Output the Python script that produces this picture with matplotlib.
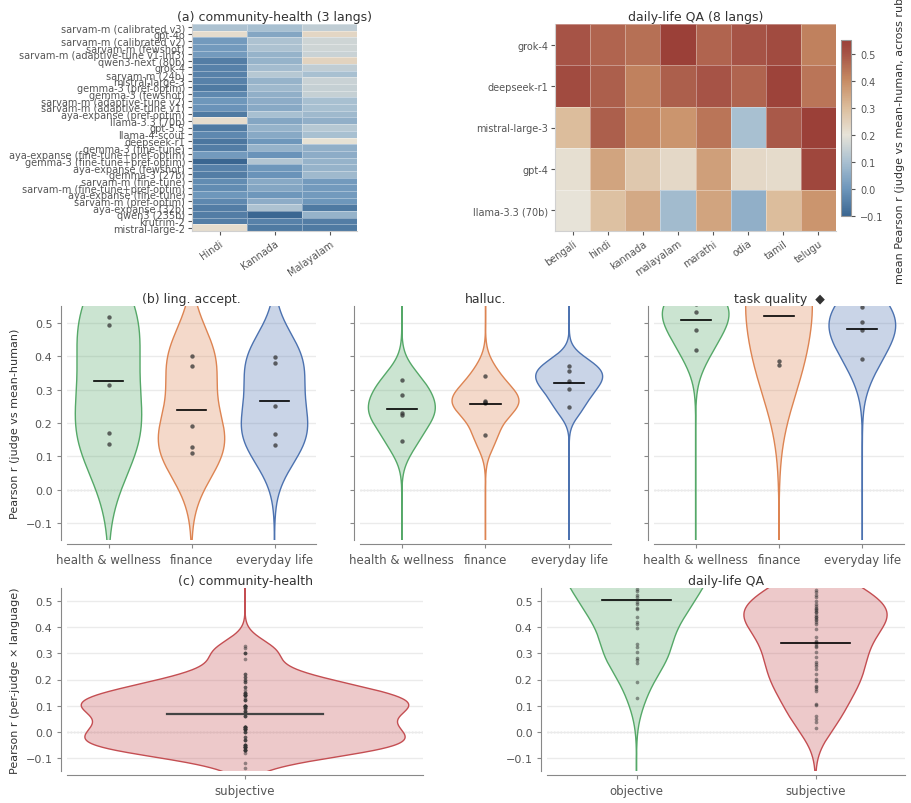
import numpy as np
import matplotlib
matplotlib.use("Agg")
import matplotlib.pyplot as plt
from matplotlib.colors import LinearSegmentedColormap, Normalize

# ---- data ----
ch_judges = ["sarvam-m (calibrated v3)", "gpt-4o", "sarvam-m (calibrated v2)", "sarvam-m (fewshot)",
             "sarvam-m (adaptive-tune v1-inf3)", "qwen3-next (80b)", "grok-4", "sarvam-m (24b)",
             "mistral-large-3", "gemma-3 (pref-optim)", "gemma-3 (fewshot)", "sarvam-m (adaptive-tune v2)",
             "sarvam-m (adaptive-tune v1)", "aya-expanse (pref-optim)", "llama-3.3 (70b)", "gpt-5.5",
             "llama-4-scout", "deepseek-r1", "gemma-3 (fine-tune)", "aya-expanse (fine-tune+pref-optim)",
             "gemma-3 (fine-tune+pref-optim)", "aya-expanse (fewshot)", "gemma-3 (27b)", "sarvam-m (fine-tune)",
             "sarvam-m (fine-tune+pref-optim)", "aya-expanse (fine-tune)", "sarvam-m (pref-optim)",
             "aya-expanse (32b)", "qwen3 (235b)", "krutrim-2", "mistral-large-2"]
ch_langs = ["Hindi", "Kannada", "Malayalam"]
ch_r = np.array([
    [0.15, 0.14, 0.19], [0.30, 0.06, 0.32], [0.02, 0.15, 0.22], [0.02, 0.15, 0.22],
    [0.02, 0.10, 0.21], [-0.06, 0.10, 0.33], [-0.05, 0.13, 0.19], [-0.05, 0.17, 0.14],
    [-0.05, 0.10, 0.21], [-0.07, 0.12, 0.20], [-0.03, 0.09, 0.20], [0.01, 0.08, 0.14],
    [0.00, 0.07, 0.14], [-0.07, 0.14, 0.12], [0.30, 0.06, 0.09], [-0.07, 0.10, 0.17],
    [-0.03, 0.07, 0.14], [-0.08, 0.01, 0.28], [-0.06, 0.10, 0.09], [0.02, 0.00, 0.08],
    [-0.14, 0.16, 0.10], [-0.05, 0.01, 0.10], [-0.06, 0.00, 0.12], [-0.02, 0.07, 0.02],
    [-0.02, 0.06, 0.02], [0.01, 0.01, 0.02], [-0.03, 0.08, 0.01], [-0.06, 0.15, -0.07],
    [-0.06, -0.12, 0.10], [-0.06, -0.05, -0.06], [0.30, -0.07, -0.07]])

dl_judges = ["grok-4", "deepseek-r1", "mistral-large-3", "gpt-4", "llama-3.3 (70b)"]
dl_langs = ["bengali", "hindi", "kannada", "malayalam", "marathi", "odia", "tamil", "telugu"]
dl_r = np.array([
    [0.50, 0.47, 0.45, 0.55, 0.47, 0.50, 0.52, 0.42],
    [0.52, 0.48, 0.42, 0.48, 0.50, 0.47, 0.54, 0.44],
    [0.30, 0.48, 0.41, 0.38, 0.44, 0.10, 0.49, 0.55],
    [0.21, 0.35, 0.27, 0.23, 0.36, 0.23, 0.22, 0.53],
    [0.20, 0.29, 0.34, 0.09, 0.35, 0.06, 0.30, 0.38]])

domains = ["health & wellness", "finance", "everyday life"]
ling_accept = [[0.518, 0.494, 0.314, 0.169, 0.138],
               [0.401, 0.372, 0.190, 0.128, 0.109],
               [0.398, 0.378, 0.250, 0.167, 0.135]]
halluc = [[0.328, 0.283, 0.229, 0.225, 0.146],
          [0.340, 0.265, 0.262, 0.260, 0.163],
          [0.372, 0.357, 0.326, 0.302, 0.248]]
task_quality = [[0.533, 0.479, 0.418, 0.560, 0.555],
                [0.385, 0.375, 0.580, 0.610, 0.650],
                [0.548, 0.503, 0.390, 0.479]]

dl_objective = [0.547, 0.537, 0.524, 0.515, 0.496, 0.49, 0.473, 0.468, 0.439, 0.419,
                0.413, 0.396, 0.336, 0.324, 0.304, 0.281, 0.276, 0.262, 0.189, 0.128,
                0.57, 0.59, 0.60, 0.61, 0.62, 0.63, 0.63, 0.64, 0.64, 0.65, 0.66, 0.67,
                0.68, 0.69, 0.70, 0.71]
dl_subjective = [0.541, 0.535, 0.524, 0.515, 0.499, 0.49, 0.481, 0.473, 0.468, 0.464,
                 0.46, 0.445, 0.439, 0.432, 0.426, 0.419, 0.413, 0.394, 0.362, 0.349,
                 0.343, 0.336, 0.33, 0.324, 0.307, 0.285, 0.266, 0.26, 0.253, 0.24,
                 0.221, 0.202, 0.196, 0.176, 0.17, 0.164, 0.157, 0.106, 0.102, 0.061,
                 0.049, 0.036, 0.013, 0.46, 0.44, 0.57, 0.58, 0.60]

GREEN, ORANGE, BLUE, RED = "#55a868", "#dd8452", "#4c72b0", "#c44e52"

cmap = LinearSegmentedColormap.from_list("rb", [
    (0.0, "#3a6691"), (0.1538, "#6d96bb"), (0.3077, "#a9c0d1"), (0.4615, "#e7e3d8"),
    (0.615, "#dcbd9c"), (0.769, "#c78c64"), (0.923, "#a65446"), (1.0, "#9b4038")])

W, H = 911, 804


def box(x0, x1, y0, y1):
    return [x0 / W, 1 - y1 / H, (x1 - x0) / W, (y1 - y0) / H]


def heatmap(ax, vals, rows, cols, norm, title):
    m = ax.pcolormesh(vals, cmap=cmap, norm=norm, edgecolors=(1, 1, 1, 0.35), linewidth=0.4)
    ax.set_xlim(0, vals.shape[1])
    ax.set_ylim(vals.shape[0], 0)
    ax.set_yticks(np.arange(len(rows)) + 0.5)
    ax.set_yticklabels(rows, fontsize=7)
    ax.set_xticks(np.arange(len(cols)) + 0.5)
    ax.set_xticklabels(cols, fontsize=7, rotation=35, ha="right", rotation_mode="anchor")
    ax.tick_params(length=3, color="#555", labelcolor="#555", pad=2)
    for s in ["top", "right"]:
        ax.spines[s].set_visible(False)
    for s in ["left", "bottom"]:
        ax.spines[s].set_color("#d0d0d0")
    ax.set_title(title, fontsize=9, color="#333", pad=3)
    return m


def violin(ax, pos, vals, color, width=0.4, bw_adjust=1.0, pt_s=10, pt_alpha=0.75,
           half=0.18, lc="k", lw=1.2):
    vals = np.asarray(vals, float)
    grid = np.linspace(-0.6, 1.3, 950)
    bw = bw_adjust * vals.std(ddof=1) * len(vals) ** (-0.2)
    dens = np.exp(-0.5 * ((grid[:, None] - vals[None, :]) / bw) ** 2).sum(1)
    w = width * dens / dens.max()
    ax.fill_betweenx(grid, pos - w, pos + w, facecolor=color, alpha=0.3, lw=0)
    ax.plot(np.r_[pos - w, (pos + w)[::-1]], np.r_[grid, grid[::-1]], color=color, lw=1)
    ax.scatter(np.full(len(vals), pos), vals, s=pt_s, color="#333", alpha=pt_alpha, lw=0, zorder=3)
    ax.plot([pos - half, pos + half], [vals.mean()] * 2, color=lc, lw=lw, zorder=4)


def style(ax, labels, show_y=True):
    ax.set_ylim(-0.15, 0.55)
    ax.set_yticks(np.round(np.arange(-0.1, 0.51, 0.1), 1))
    ax.set_xlim(-0.5, len(labels) - 0.5)
    ax.set_xticks(range(len(labels)))
    ax.set_xticklabels(labels)
    ax.yaxis.grid(True, color="#ebebeb", lw=1)
    ax.set_axisbelow(True)
    ax.axhline(0, color="#999", lw=0.9, ls=":", zorder=0.5)
    for s in ["top", "right"]:
        ax.spines[s].set_visible(False)
    ax.spines["left"].set_position(("outward", 4))
    ax.spines["bottom"].set_position(("outward", 3))
    for s in ["left", "bottom"]:
        ax.spines[s].set_color("#888")
    ax.tick_params(labelsize=8, color="#888", labelcolor="#555", length=3)
    ax.tick_params(axis="x", labelsize=8.5)
    if not show_y:
        ax.tick_params(axis="y", labelleft=False)


fig = plt.figure(figsize=(W / 100, H / 100), dpi=100)

# (a) heatmaps
ax = fig.add_axes(box(192, 357, 25, 232))
heatmap(ax, ch_r, ch_judges, ch_langs, Normalize(-0.126, 0.74), "(a) community-health (3 langs)")

ax = fig.add_axes(box(555, 836, 25, 232))
m = heatmap(ax, dl_r, dl_judges, dl_langs, Normalize(-0.1, 0.55), "daily-life QA (8 langs)")
cax = fig.add_axes(box(841, 851, 41, 217))
cb = fig.colorbar(m, cax=cax)
cb.set_ticks([-0.1, 0.0, 0.1, 0.2, 0.3, 0.4, 0.5])
cb.outline.set_edgecolor("#999")
cb.outline.set_linewidth(0.8)
cax.tick_params(labelsize=7, color="#555", labelcolor="#555", length=3)
cb.set_label("mean Pearson r (judge vs mean-human, across rubrics)", fontsize=8, color="#333", labelpad=8)

# (b) per-domain violins
cols = [GREEN, ORANGE, BLUE]
panels = [(box(67, 316, 307, 541), ling_accept, "(b) ling. accept.", True, 1.0),
          (box(360, 611, 307, 541), halluc, "halluc.", False, 1.0),
          (box(654, 904, 307, 541), task_quality, "task quality  \u25c6", False, 1.5)]
for rect, data, title, show_y, bwa in panels:
    ax = fig.add_axes(rect)
    for i, vals in enumerate(data):
        violin(ax, i, vals, cols[i], bw_adjust=bwa)
    style(ax, domains, show_y)
    ax.set_title(title, fontsize=9, color="#333", pad=3)
    if show_y:
        ax.set_ylabel("Pearson r (judge vs mean-human)", fontsize=8, color="#333")

# (c) objective vs subjective
ax = fig.add_axes(box(67, 423, 589, 772))
violin(ax, 0, ch_r.ravel(), RED, width=0.46, pt_s=7, pt_alpha=0.5, half=0.22, lc="#444", lw=1.6)
style(ax, ["subjective"])
ax.set_title("(c) community-health", fontsize=9, color="#333", pad=3)
ax.set_ylabel("Pearson r (per-judge \u00d7 language)", fontsize=8, color="#333")

ax = fig.add_axes(box(547, 905, 589, 772))
violin(ax, 0, dl_objective, GREEN, width=0.4, pt_s=7, pt_alpha=0.5, half=0.19)
violin(ax, 1, dl_subjective, RED, width=0.4, pt_s=7, pt_alpha=0.5, half=0.19)
style(ax, ["objective", "subjective"])
ax.set_title("daily-life QA", fontsize=9, color="#333", pad=3)

fig.savefig("out.png", dpi=100)
